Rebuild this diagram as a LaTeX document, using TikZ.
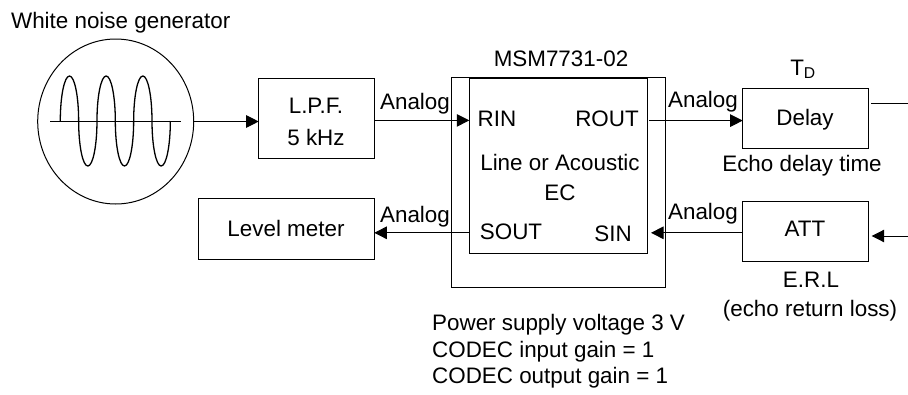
\documentclass[tikz,border=0pt]{standalone}
\usepackage{fontspec}
\setmainfont{Liberation Sans}
\usetikzlibrary{arrows.meta, shapes.geometric}
\tikzset{
    block/.style={rectangle, draw, line width=1pt, outer sep=0pt, inner sep=0pt},
    lbl/.style={anchor=base, inner sep=0pt, font=\fontsize{22.4}{26}\selectfont},
    sig/.style={-{Triangle[length=12.5pt,width=12.5pt]}, line width=1pt}
}
\begin{document}
\begin{tikzpicture}[x=1pt, y=-1pt]
                \useasboundingbox (0,0) rectangle (908,394);
                % Generator
                \node at (115.7,121.5) [ellipse, draw, line width=1pt, inner sep=0pt, outer sep=0pt, minimum width=156pt, minimum height=165pt] (gen) {};
                \draw[line width=1pt] (50,121) -- (181.3,121);
                \draw[line width=1.3pt] (60.3,121)
                    arc[start angle=180, end angle=0, x radius=9.17pt, y radius=45pt]
                    arc[start angle=180, end angle=360, x radius=9.17pt, y radius=45pt]
                    arc[start angle=180, end angle=0, x radius=9.17pt, y radius=45pt]
                    arc[start angle=180, end angle=360, x radius=9.17pt, y radius=45pt]
                    arc[start angle=180, end angle=0, x radius=9.17pt, y radius=45pt]
                    arc[start angle=180, end angle=360, x radius=9.17pt, y radius=45pt];
                \node at (120.7,28) [lbl] (gentext) {White noise generator};

                % Boxes
                \node at (316.5,118.7) [block, minimum width=115.6pt, minimum height=80pt] (lpf) {};
                \node at (286.5,229) [block, minimum width=175.6pt, minimum height=60.3pt] (meter) {};
                \node at (558.5,182.5) [block, minimum width=213.6pt, minimum height=210.4pt] (chip) {};
                \node at (558.3,166.3) [block, minimum width=178pt, minimum height=175.3pt] (ec) {};
                \node at (805.5,118.7) [block, minimum width=125.6pt, minimum height=60pt] (delay) {};
                \node at (805.5,231.2) [block, minimum width=125.6pt, minimum height=60.3pt] (att) {};

                % Box texts
                \node at (316,113) [lbl] (lpfa) {L.P.F.};
                \node at (316,145.5) [lbl] (lpfb) {5 kHz};
                \node at (286,236) [lbl] (metertext) {Level meter};
                \node at (561,66) [lbl] (chiptext) {MSM7731-02};
                \node at (497,126.7) [lbl] (rin) {RIN};
                \node at (607,126.7) [lbl] (rout) {ROUT};
                \node at (560,170) [lbl] (eca) {Line or Acoustic};
                \node at (560,200) [lbl] (ecb) {EC};
                \node at (511,239) [lbl] (sout) {SOUT};
                \node at (613,241) [lbl] (sin) {SIN};
                \node at (805,125) [lbl] (delaytext) {Delay};
                \node at (805,236.7) [lbl] (atttext) {ATT};
                \node at (803,75) [lbl] (td) {T\textsubscript{D}};
                \node at (802,171.7) [lbl] (echo) {Echo delay time};
                \node at (811,287.7) [lbl] (erl) {E.R.L};
                \node at (810,316) [lbl] (loss) {(echo return loss)};
                \node at (415,109.3) [lbl] (ana) {Analog};
                \node at (415,222) [lbl] (anb) {Analog};
                \node at (703,107) [lbl] (anc) {Analog};
                \node at (703,219) [lbl] (and) {Analog};
                \node at (432,330) [lbl, anchor=base west] (pwra) {Power supply voltage 3 V};
                \node at (432,357) [lbl, anchor=base west] (pwrb) {CODEC input gain = 1};
                \node at (432,383) [lbl, anchor=base west] (pwrc) {CODEC output gain = 1};

                % Free ends
                \coordinate (rinpt) at (469.3,120.4);
                \coordinate (routpt) at (649.3,120.6);
                \coordinate (sinpt) at (651,232.8);
                \coordinate (outpt) at (871,103.3);
                \coordinate (outend) at (908,103.3);
                \coordinate (retpt) at (871.7,236);
                \coordinate (retend) at (908,236);

                % Arrows
                \draw[sig] (gen.east) -- (lpf.west |- gen.east);
                \draw[sig] (lpf.east |- rinpt) -- (rinpt);
                \draw[sig] (routpt) -- (delay.west |- routpt);
                \draw[line width=1pt] (outpt) -- (outend);
                \draw[sig] (retend) -- (retpt);
                \draw[sig] (att.west |- sinpt) -- (sinpt);
                \draw[sig] (ec.west |- sinpt) -- (meter.east |- sinpt);
\end{tikzpicture}
\end{document}
